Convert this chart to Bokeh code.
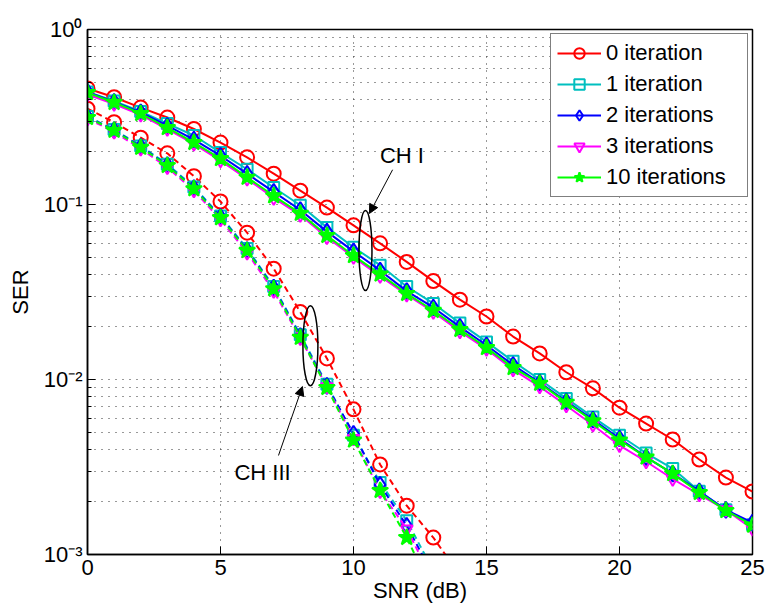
from bokeh.plotting import figure
from bokeh.models import (FixedTicker, CustomJSTickFormatter,
                          Arrow, NormalHead, Label, Range1d)
from bokeh.embed import file_html
from bokeh.resources import INLINE

# ---------------- data ----------------
snr_ch1 = list(range(26))
ser_ch1_it0 = [0.46, 0.41, 0.358, 0.314, 0.27, 0.226, 0.186, 0.15, 0.12, 0.096, 0.076, 0.060, 0.047,
               0.0365, 0.0286, 0.0229, 0.0176, 0.0141, 0.011, 0.0089, 0.0069, 0.0056, 0.00454,
               0.00349, 0.00275, 0.00229]
ser_ch1_it1 = [0.44, 0.39, 0.34, 0.29, 0.248, 0.198, 0.159, 0.125, 0.099, 0.074, 0.057, 0.045, 0.034,
               0.0272, 0.021, 0.0164, 0.0127, 0.0100, 0.0078, 0.0061, 0.0048, 0.0038, 0.0031,
               0.0023, 0.0018, 0.00148]
ser_ch1_it2 = [0.44, 0.386, 0.336, 0.282, 0.235, 0.19, 0.15, 0.118, 0.093, 0.070, 0.054, 0.042, 0.032,
               0.0258, 0.020, 0.0157, 0.0121, 0.0096, 0.0075, 0.0059, 0.0046, 0.0036, 0.0029,
               0.0023, 0.0018, 0.00152]
ser_ch1_it3 = [0.425, 0.375, 0.325, 0.27, 0.222, 0.178, 0.14, 0.109, 0.087, 0.065, 0.050, 0.039, 0.0305,
               0.0243, 0.0188, 0.0149, 0.0114, 0.0091, 0.0071, 0.0055, 0.0042, 0.0034, 0.0027,
               0.0022, 0.0018, 0.0014]
ser_ch1_it10 = [0.436, 0.383, 0.331, 0.275, 0.226, 0.183, 0.143, 0.112, 0.089, 0.0665, 0.051, 0.040, 0.031,
                0.0248, 0.0193, 0.0152, 0.0117, 0.0095, 0.0074, 0.0058, 0.0045, 0.0036, 0.0029,
                0.00226, 0.00178, 0.00147]

snr_ch3_it0 = list(range(15))
ser_ch3_it0 = [0.353, 0.295, 0.241, 0.196, 0.145, 0.104, 0.069, 0.043, 0.0243, 0.0132, 0.00675,
               0.00327, 0.0019, 0.00125, 0.00076]
snr_ch3 = list(range(14))
ser_ch3_it1 = [0.318, 0.268, 0.216, 0.17, 0.126, 0.086, 0.056, 0.034, 0.018, 0.0094, 0.0048,
               0.00258, 0.00156, 0.00081]
ser_ch3_it2 = [0.316, 0.266, 0.214, 0.168, 0.124, 0.085, 0.055, 0.0335, 0.0177, 0.0092, 0.0049,
               0.0025, 0.00146, 0.00076]
ser_ch3_it3 = [0.31, 0.26, 0.208, 0.163, 0.12, 0.082, 0.053, 0.032, 0.0172, 0.0091, 0.0046,
               0.0023, 0.0014, 0.0007]
ser_ch3_it10 = [0.314, 0.265, 0.212, 0.167, 0.123, 0.084, 0.0546, 0.033, 0.0174, 0.009, 0.0045,
                0.00232, 0.00125, 0.0006]

labels = ["0 iteration", "1 iteration", "2 iterations", "3 iterations", "10 iterations"]
x_ticks = [0, 5, 10, 15, 20, 25]
y_ticks = [1e-3, 1e-2, 1e-1, 1.0]
y_minor = [m * 10.0 ** e for e in (-3, -2, -1) for m in range(2, 10)]

# annotation anchors (data coords)
ch1_ellipse = (10.45, 0.0546)
ch3_ellipse = (8.38, 0.0156)
ch1_text = (11.82, 0.19)
ch3_text = (6.58, 0.00294)
ch1_arrow = (11.47, 0.158, 10.6, 0.0889)
ch3_arrow = (7.18, 0.00368, 8.08, 0.00912)

FONT = "Liberation Sans"

# ---------------- figure ----------------
p = figure(width=767, height=609, y_axis_type="log",
           x_range=Range1d(0, 25), y_range=Range1d(1e-3, 1.0),
           output_backend="svg", toolbar_location=None,
           min_border_left=87, min_border_right=15, min_border_top=29, min_border_bottom=55)
p.background_fill_color = "white"
p.border_fill_color = "white"
p.outline_line_color = "black"
p.outline_line_width = 1.5

styles = [
    ("#FF0000", "circle", 14, None),
    ("#00BFBF", "square", 11, None),
    ("#0000FF", "diamond", 16, None),
    ("#FF00FF", "inverted_triangle", 12, None),
    ("#00FF00", "star", 17, "#00FF00"),
]

ch1_series = [ser_ch1_it0, ser_ch1_it1, ser_ch1_it2, ser_ch1_it3, ser_ch1_it10]
ch3_series = [(snr_ch3_it0, ser_ch3_it0), (snr_ch3, ser_ch3_it1), (snr_ch3, ser_ch3_it2),
              (snr_ch3, ser_ch3_it3), (snr_ch3, ser_ch3_it10)]

for (col, mk, sz, fill), lab, ys, (x3, y3) in zip(styles, labels, ch1_series, ch3_series):
    p.line(snr_ch1, ys, line_color=col, line_width=2, legend_label=lab)
    p.scatter(snr_ch1, ys, marker=mk, size=sz, line_color=col, line_width=2,
              fill_color=fill, legend_label=lab)
    p.line(x3, y3, line_color=col, line_width=2, line_dash="6 4")
    p.scatter(x3, y3, marker=mk, size=sz, line_color=col, line_width=2, fill_color=fill)

# ---------------- annotations ----------------
p.ellipse(x=[ch1_ellipse[0], ch3_ellipse[0]], y=[ch1_ellipse[1], ch3_ellipse[1]],
          width=[13, 15], height=[80, 80], width_units="screen", height_units="screen",
          fill_color=None, line_color="black", line_width=1.5)
for (xs, ys, xe, ye) in (ch1_arrow, ch3_arrow):
    p.add_layout(Arrow(end=NormalHead(size=9, fill_color="black", line_color="black"),
                       x_start=xs, y_start=ys, x_end=xe, y_end=ye,
                       line_color="black", line_width=1))
for (tx, ty), txt in ((ch1_text, "CH I"), (ch3_text, "CH III")):
    p.add_layout(Label(x=tx, y=ty, text=txt, text_align="center", text_baseline="middle",
                       text_font=FONT, text_font_size="22px", text_color="black"))

# ---------------- axes ----------------
xticker = FixedTicker(ticks=x_ticks, minor_ticks=[])
yticker = FixedTicker(ticks=y_ticks, minor_ticks=y_minor)
sup_code = """
const e = Math.round(Math.log10(tick));
const m = {'-':'\u207b','0':'\u2070','1':'\u00b9','2':'\u00b2','3':'\u00b3'};
return '10' + String(e).split('').map(c => m[c]).join('');
"""

p.xaxis.ticker = xticker
p.yaxis.ticker = yticker
p.yaxis.formatter = CustomJSTickFormatter(code=sup_code)
p.xaxis.axis_label = "SNR (dB)"
p.yaxis.axis_label = "SER"

for ax in (p.xaxis[0], p.yaxis[0]):
    ax.major_tick_in = 8
    ax.major_tick_out = 0
    ax.minor_tick_in = 4
    ax.minor_tick_out = 0
    ax.axis_line_color = "black"
    ax.axis_line_width = 1.5
    ax.major_tick_line_color = "black"
    ax.minor_tick_line_color = "black"
    ax.major_label_text_font = FONT
    ax.major_label_text_font_size = "22px"
    ax.major_label_text_color = "black"
    ax.axis_label_text_font = FONT
    ax.axis_label_text_font_size = "22px"
    ax.axis_label_text_font_style = "normal"
    ax.axis_label_text_color = "black"
p.xaxis.major_label_standoff = 5
p.xaxis.axis_label_standoff = 0
p.yaxis.major_label_standoff = 5
p.yaxis.axis_label_standoff = 8

# grid
for g in (p.xgrid[0], p.ygrid[0]):
    g.grid_line_color = "#333333"
    g.grid_line_dash = "1 6"
    g.grid_line_width = 1
p.ygrid.minor_grid_line_color = "#333333"
p.ygrid.minor_grid_line_dash = "1 6"
p.ygrid.minor_grid_line_width = 1

# legend
lg = p.legend[0]
lg.location = "top_right"
lg.margin = 4
lg.padding = 6
lg.spacing = 5
lg.glyph_width = 44
lg.glyph_height = 26
lg.label_height = 26
lg.label_width = 135
lg.label_standoff = 5
lg.label_text_font = FONT
lg.label_text_font_size = "22px"
lg.label_text_color = "black"
lg.border_line_color = "black"
lg.border_line_width = 1.5
lg.background_fill_color = "white"
lg.background_fill_alpha = 1.0

open("out.html", "w").write(file_html(p, INLINE))
